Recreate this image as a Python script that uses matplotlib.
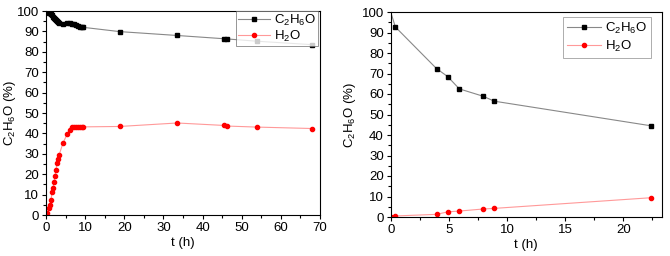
import matplotlib
matplotlib.use("Agg")
import matplotlib.pyplot as plt
from matplotlib.ticker import MultipleLocator

plt.rcParams['font.family'] = ['Liberation Sans', 'DejaVu Sans']
plt.rcParams['mathtext.default'] = 'regular'
plt.rcParams['font.size'] = 9.5

# left panel
t1 = [0, 0.3, 0.77, 1.0, 1.28, 1.53, 1.8, 2.05, 2.3, 2.56, 2.8, 3.07, 3.3, 4.35,
      5.37, 6.1, 6.65, 7.1, 7.6, 8.1, 8.6, 9.1, 9.5, 18.8, 33.5, 45.5, 46.3, 53.8, 67.9]
eth1 = [100, 99.7, 99.2, 98.8, 98.3, 97.8, 97.2, 96.7, 96.2, 95.7, 95.2, 94.7, 94.3, 93.7,
        94.2, 94.0, 93.8, 93.4, 93.0, 92.6, 92.3, 92.1, 92.0, 89.9, 88.0, 86.4, 86.3, 85.2, 83.5]
h2o1 = [0, 0.8, 3.3, 4.7, 7.3, 11.1, 13.2, 16.2, 19.1, 22.2, 25.3, 27.3, 29.2, 35.3,
        39.5, 41.8, 43.2, 43.0, 43.0, 43.1, 43.1, 43.2, 43.2, 43.4, 45.1, 43.9, 43.6, 43.1, 42.4]

# right panel
t2 = [0, 0.4, 3.94, 4.9, 5.9, 7.95, 8.9, 22.37]
eth2 = [100, 92.7, 72.4, 68.5, 62.5, 58.9, 56.5, 44.5]
h2o2 = [0, 0.5, 1.3, 2.5, 2.9, 3.9, 4.2, 9.4]

fig = plt.figure(figsize=(6.7, 2.56), dpi=100)
W, H = 670.0, 256.0
ax1 = fig.add_axes([46/W, 1-215/H, 274/W, 204/H])
ax2 = fig.add_axes([390.7/W, 1-217/H, 271/W, 205/H])

def style(ax, ylab_x):
    ax.tick_params(which='both', direction='out', top=False, right=False, width=0.8, pad=2)
    ax.tick_params(which='major', length=3)
    ax.tick_params(which='minor', length=2)
    for s in ax.spines.values():
        s.set_linewidth(0.8)
    ax.set_ylim(0, 100)
    ax.yaxis.set_major_locator(MultipleLocator(10))
    ax.yaxis.set_minor_locator(MultipleLocator(5))
    ax.set_xlabel('t (h)', labelpad=2)
    ax.set_ylabel('C$_2$H$_6$O (%)')
    ax.yaxis.set_label_coords(ylab_x, 0.5)

ax1.plot(t1, eth1, color='#888888', lw=0.8, marker='s', ms=2.8, mfc='black', mec='black', label='C$_2$H$_6$O')
ax1.plot(t1, h2o1, color='#ff9999', lw=0.8, marker='o', ms=3, mfc='red', mec='red', label='H$_2$O')
ax1.set_xlim(0, 70)
ax1.xaxis.set_major_locator(MultipleLocator(10))
ax1.xaxis.set_minor_locator(MultipleLocator(5))
style(ax1, -0.102)
leg1 = ax1.legend(loc='upper right', bbox_to_anchor=(0.992, 1.0), fancybox=False,
                  borderaxespad=0, handlelength=2.4, handletextpad=0.3, borderpad=0.15,
                  labelspacing=0.05, fontsize=9.5)
leg1.get_frame().set_edgecolor('#666666')
leg1.get_frame().set_linewidth(0.6)

ax2.plot(t2, eth2, color='#888888', lw=0.8, marker='s', ms=2.8, mfc='black', mec='black',
         markevery=list(range(1, len(t2))), label='C$_2$H$_6$O')
ax2.plot(t2, h2o2, color='#ff9999', lw=0.8, marker='o', ms=3, mfc='red', mec='red', label='H$_2$O')
ax2.set_xlim(0, 23.3)
ax2.xaxis.set_major_locator(MultipleLocator(5))
ax2.xaxis.set_minor_locator(MultipleLocator(2.5))
style(ax2, -0.12)
leg2 = ax2.legend(loc='upper right', bbox_to_anchor=(0.96, 0.976), fancybox=False,
                  borderaxespad=0, handlelength=2.6, handletextpad=0.3, borderpad=0.3,
                  labelspacing=0.2, fontsize=9.5)
leg2.get_frame().set_edgecolor('#888888')
leg2.get_frame().set_linewidth(0.6)

fig.savefig('out.png', dpi=100)
